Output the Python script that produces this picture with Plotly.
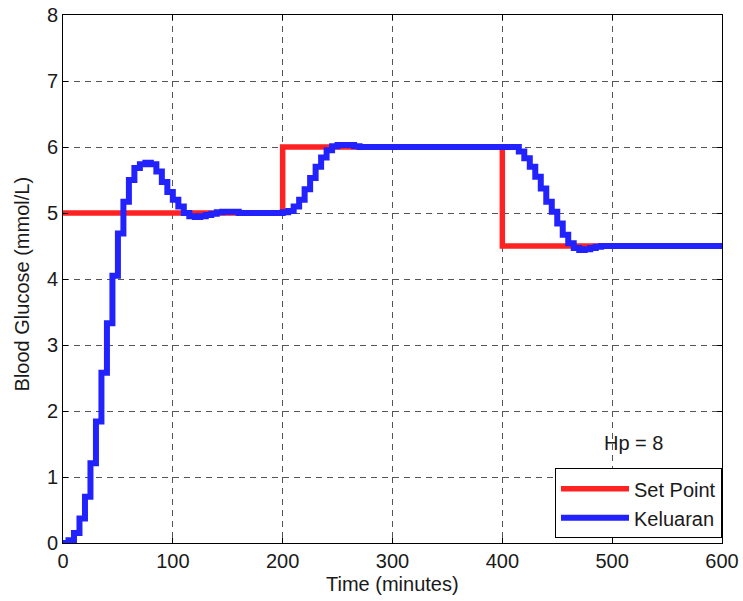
import plotly.graph_objects as go

# Set point profile (mmol/L), held until the next change
sp_time = [0, 200, 400, 600]
sp_value = [5.0, 6.0, 4.5, 4.5]

# Controller output (blood glucose), one sample every 5 minutes
out_time = list(range(0, 605, 5))
out_value = [
    0.00, 0.04, 0.15, 0.37, 0.70, 1.21, 1.84, 2.58, 3.33, 4.05,   # 0-45
    4.69, 5.17, 5.50, 5.68, 5.74, 5.76, 5.74, 5.63, 5.47, 5.32,   # 50-95
    5.20, 5.10, 5.00, 4.95, 4.94, 4.95, 4.97, 4.99, 5.01, 5.02,   # 100-145
    5.02, 5.02, 5.00, 5.00, 5.00, 5.00, 5.00, 5.00, 5.00, 5.00,   # 150-195
    5.01, 5.03, 5.10, 5.20, 5.36, 5.53, 5.70, 5.84, 5.95, 6.01,   # 200-245
    6.03, 6.03, 6.03, 6.01, 6.00, 6.00, 6.00, 6.00, 6.00, 6.00,   # 250-295
    6.00, 6.00, 6.00, 6.00, 6.00, 6.00, 6.00, 6.00, 6.00, 6.00,   # 300-345
    6.00, 6.00, 6.00, 6.00, 6.00, 6.00, 6.00, 6.00, 6.00, 6.00,   # 350-395
    6.00, 6.00, 6.00, 5.93, 5.83, 5.70, 5.55, 5.37, 5.17, 5.02,   # 400-445
    4.84, 4.67, 4.54, 4.47, 4.44, 4.45, 4.47, 4.49, 4.50, 4.50,   # 450-495
    4.50, 4.50, 4.50, 4.50, 4.50, 4.50, 4.50, 4.50, 4.50, 4.50,   # 500-545
    4.50, 4.50, 4.50, 4.50, 4.50, 4.50, 4.50, 4.50, 4.50, 4.50,   # 550-595
    4.50,                                                         # 600
]

x_ticks = [0, 100, 200, 300, 400, 500, 600]
y_ticks = [0, 1, 2, 3, 4, 5, 6, 7, 8]

FONT = "Liberation Sans, Arial, sans-serif"
TXT = "#1a1a1a"
FS = 20

fig = go.Figure()
fig.add_trace(go.Scatter(
    x=sp_time, y=sp_value, mode="lines", name="Set Point",
    line=dict(color="#ff2222", width=5.5, shape="hv"),
))
fig.add_trace(go.Scatter(
    x=out_time, y=out_value, mode="lines", name="Keluaran",
    line=dict(color="#2222ff", width=6, shape="hv"),
))

axis_common = dict(
    showline=True, linecolor="black", linewidth=1, mirror="ticks",
    ticks="inside", ticklen=5, tickcolor="black",
    showgrid=True, gridcolor="#555555", gridwidth=1, griddash="6px,5px",
    zeroline=False, automargin=False,
    tickfont=dict(family=FONT, size=FS, color=TXT),
)

fig.update_xaxes(range=[0, 600], tickvals=x_ticks, title_text="", **axis_common)
fig.update_yaxes(range=[0, 8], tickvals=y_ticks, title_text="", **axis_common)

# axis titles
fig.add_annotation(x=0.5, y=-0.078, xref="paper", yref="paper", yanchor="middle",
                   text="Time (minutes)", showarrow=False,
                   font=dict(family=FONT, size=FS, color=TXT))
fig.add_annotation(x=-0.062, y=0.49, xref="paper", yref="paper", xanchor="center",
                   text="Blood Glucose (mmol/L)", showarrow=False, textangle=-90,
                   font=dict(family=FONT, size=FS, color=TXT))

fig.add_annotation(x=519, y=1.51, text="Hp = 8", showarrow=False,
                   font=dict(family=FONT, size=FS, color=TXT))

fig.update_layout(
    width=743, height=601,
    margin=dict(l=63, r=21, t=15, b=58, autoexpand=False),
    paper_bgcolor="white", plot_bgcolor="white",
    showlegend=True,
    legend=dict(
        x=1, y=0.009, xanchor="right", yanchor="bottom",
        bgcolor="white", bordercolor="black", borderwidth=1,
        font=dict(family=FONT, size=FS, color=TXT),
        itemwidth=68, tracegroupgap=0,
    ),
)

fig.write_html("out.html")
